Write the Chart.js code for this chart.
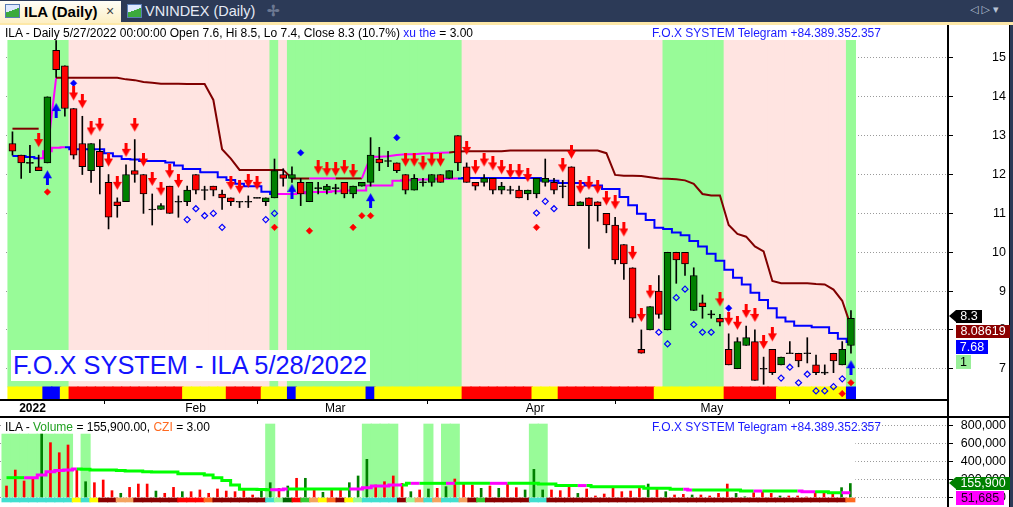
<!DOCTYPE html>
<html><head><meta charset="utf-8"><title>ILA Daily</title>
<script src="https://cdn.jsdelivr.net/npm/chart.js@4.4.1/dist/chart.umd.min.js"></script>
<style>
html,body{margin:0;padding:0}
body{width:1013px;height:507px;overflow:hidden;position:relative;background:#fff;font-family:"Liberation Sans",Arial,sans-serif;}
.a{position:absolute;white-space:nowrap}
#tabbar{left:0;top:0;width:1013px;height:22px;background:#2c3a57}
#tabline{left:0;top:22px;width:1013px;height:3px;background:#fde8a8}
#tab1{left:0;top:1px;width:121px;height:22px;background:linear-gradient(#fffef8,#fdefc4)}
.icon{width:13px;height:12px;border:1px solid #5a7db5;background:linear-gradient(160deg,#dfe9ff 0,#dfe9ff 45%,#3caa3c 46%,#3caa3c 100%)}
#t1txt{left:24px;top:3px;font-size:15px;font-weight:bold;color:#000}
#t1x{left:106px;top:3px;font-size:14px;color:#444}
#t2txt{left:145px;top:3px;font-size:14.5px;color:#e6ebf5}
#plus{left:267px;top:2px;font-size:15px;color:#6c7892;font-weight:bold}
#nav{left:970px;top:3px;font-size:11px;color:#b9c3d6;font-family:"DejaVu Sans",sans-serif;letter-spacing:3px}
#rborder{left:1009px;top:25px;width:4px;height:482px;background:#2c3a57;border-left:1px solid #000}
#vline{left:947px;top:25px;width:2px;height:482px;background:#000}
#hline1{left:0;top:399px;width:948px;height:2px;background:#000}
#hline2{left:0;top:416px;width:1010px;height:2px;background:#000}
.ttl{font-size:12px;line-height:13px;background:#fff;padding:0 1px}
#band{left:5px;top:27px;width:943px;height:13px;background:#fff}
#big{left:11px;top:350px;height:31px;line-height:31px;background:#fff;color:#1414ff;font-size:25.4px;padding:0 3px 0 2px}
.lbl{font-size:12.5px;line-height:13px;text-align:center;height:13px}
.tipL{width:0;height:0;border-top:6.5px solid transparent;border-bottom:6.5px solid transparent}
</style></head>
<body>
<div id="tabbar" class="a"></div>
<div id="tabline" class="a"></div>
<div id="tab1" class="a"></div>
<div class="a icon" style="left:5px;top:4px"></div>
<div id="t1txt" class="a">ILA (Daily)</div>
<div id="t1x" class="a">×</div>
<div class="a icon" style="left:127px;top:4px"></div>
<div id="t2txt" class="a">VNINDEX (Daily)</div>
<div id="plus" class="a">✢</div>
<div id="nav" class="a">◁▷▾</div>

<canvas id="pc" width="1013" height="393" style="position:absolute;left:0;top:25px"></canvas>
<canvas id="vc" width="1013" height="89" style="position:absolute;left:0;top:418px"></canvas>

<div id="band" class="a"></div>
<div class="a ttl" style="left:4px;top:27px">ILA - Daily 5/27/2022 00:00:00 Open 7.6, Hi 8.5, Lo 7.4, Close 8.3 (10.7%) <span style="color:#1a1aff">xu the</span> = 3.00</div>
<div class="a ttl" style="left:651px;top:27px;color:#1a1aff">F.O.X SYSTEM Telegram +84.389.352.357</div>
<div id="big" class="a">F.O.X SYSTEM - ILA 5/28/2022</div>

<div class="a ttl" style="left:4px;top:421px;background:transparent">ILA - <span style="color:#20a020">Volume</span> = 155,900.00, <span style="color:#ff6a20">CZI</span> = 3.00</div>
<div class="a ttl" style="left:651px;top:421px;color:#1a1aff;background:transparent">F.O.X SYSTEM Telegram +84.389.352.357</div>

<div id="vline" class="a"></div>
<div id="hline1" class="a"></div>
<div id="hline2" class="a"></div>
<div id="rborder" class="a"></div>

<div class="a tipL" style="left:949px;top:310px;border-right:7px solid #000"></div>
<div class="a lbl" style="left:956px;top:310px;width:26px;background:#000;color:#fff">8.3</div>
<div class="a lbl" style="left:956px;top:325px;width:54px;background:#8b0000;color:#fff">8.08619</div>
<div class="a lbl" style="left:956px;top:340px;width:32px;height:14px;line-height:14px;background:#0000ff;color:#fff">7.68</div>
<div class="a lbl" style="left:956px;top:355px;width:15px;height:14px;line-height:14px;background:#99ee99;color:#000">1</div>
<div class="a tipL" style="left:949px;top:477px;border-right:7px solid #008000"></div>
<div class="a lbl" style="left:956px;top:477px;width:54px;background:#008000;color:#fff">155,900</div>
<div class="a lbl" style="left:956px;top:491px;width:48px;height:14px;line-height:14px;background:#ff00ff;color:#200020">51,685</div>

<script>
// ---------------- DATA ----------------
const dates = ['12/31',
 '1/4','1/5','1/6','1/7','1/10','1/11','1/12','1/13','1/14','1/17','1/18','1/19','1/20','1/21','1/24','1/25','1/26','1/27','1/28',
 '2/7','2/8','2/9','2/10','2/11','2/14','2/15','2/16','2/17','2/18','2/21','2/22','2/23','2/24','2/25','2/28',
 '3/1','3/2','3/3','3/4','3/7','3/8','3/9','3/10','3/11','3/14','3/15','3/16','3/17','3/18','3/21','3/22','3/23','3/24','3/25','3/28','3/29','3/30','3/31',
 '4/1','4/4','4/5','4/6','4/7','4/8','4/12','4/13','4/14','4/15','4/18','4/19','4/20','4/21','4/22','4/25','4/26','4/27','4/28','4/29',
 '5/4','5/5','5/6','5/9','5/10','5/11','5/12','5/13','5/16','5/17','5/18','5/19','5/20','5/23','5/24','5/25','5/26','5/27'];

const monthLabels = ['2022','Feb','Mar','Apr','May'];
const monthStarts = ['1/4','2/7','3/1','4/1','5/4'];
const priceTicks = [7,8,9,10,11,12,13,14,15];
const volumeTicks = [0,200000,400000,600000,800000];

const open = [12.8,12.5,12.3,12.2,12.3,15.2,14.8,13.7,12.8,12.1, 12.6,11.8,11.3,11.3,12.1,12.0,11.1,11.1,11.7,11.3,
 11.3,12.0,11.6,11.7,11.5,11.4,11.3,11.3,11.4,11.3, 11.4,12.0,11.9,11.8,11.3,11.65,11.6,11.65,11.8,11.5,
 11.7,11.8,12.4,12.35,12.3,12.0,11.6,11.8,11.8,12.0, 11.9,13.0,12.2,11.8,11.8,11.9,11.6,11.6,11.6,11.5,
 11.5,11.8,11.8,11.7,12.2,11.2,11.4,11.3,11.0,10.7, 10.2,9.6,7.5,8.0,9.0,8.0,10.0,10.0,8.5,8.7,
 8.4,8.3,7.5,7.0,7.6,7.7,7.0,7.5,7.1,7.4, 7.4,7.4,7.1,6.9,7.4,7.1,7.6];
const high = [13.1,12.5,12.75,12.5,14.0,15.45,14.8,13.7,13.5,12.8, 12.9,12.0,11.4,12.25,12.9,12.0,11.5,11.25,11.7,11.45,
 11.7,12.0,11.7,11.7,11.6,11.4,11.3,11.45,11.4,11.4, 12.4,12.15,12.2,11.9,11.8,11.8,11.75,11.75,11.8,11.7,
 11.8,12.95,12.7,12.6,12.3,12.0,12.0,11.9,12.0,12.0, 12.1,13.0,12.3,11.8,12.0,11.9,11.8,11.7,11.7,11.6,
 11.9,12.4,11.9,11.85,12.2,11.3,11.4,11.3,11.0,10.9, 10.2,9.6,8.0,8.6,9.4,10.0,10.0,10.0,9.6,8.9,
 8.5,8.4,7.9,7.8,8.1,8.0,7.3,7.5,7.3,7.7, 7.4,7.8,7.35,7.1,7.4,7.7,8.5];
const low = [12.5,11.9,12.05,12.1,12.3,14.5,13.5,12.4,12.0,11.8, 11.5,10.6,10.9,11.3,11.8,11.0,10.7,11.1,11.0,10.9,
 11.2,11.5,11.35,11.45,11.1,11.2,11.15,11.15,11.4,11.2, 11.4,11.7,11.8,11.2,11.3,11.5,11.5,11.5,11.4,11.4,
 11.7,11.7,12.1,12.2,12.05,11.5,11.6,11.7,11.7,11.8, 11.9,12.1,11.8,11.6,11.7,11.5,11.5,11.5,11.4,11.35,
 11.4,11.7,11.5,11.4,11.2,11.2,10.1,10.8,10.5,9.7, 9.3,8.2,7.4,8.0,8.3,8.0,9.2,9.4,8.5,8.3,
 8.3,8.1,7.1,7.0,7.6,6.7,6.6,6.85,7.1,7.4, 7.05,7.15,6.85,6.85,6.9,7.1,7.4];
const close = [12.6,12.3,12.3,12.1,14.0,14.7,13.7,12.5,12.2,12.8, 12.2,10.9,11.2,12.0,12.0,11.5,11.1,11.2,11.0,11.3,
 11.6,11.6,11.6,11.6,11.4,11.3,11.3,11.3,11.4,11.4, 12.1,11.9,12.0,11.5,11.8,11.65,11.7,11.65,11.5,11.7,
 11.8,12.5,12.3,12.35,12.1,11.6,11.9,11.8,12.0,11.8, 12.1,12.3,11.8,11.7,11.9,11.6,11.7,11.6,11.4,11.6,
 11.9,11.9,11.6,11.7,11.2,11.3,11.2,11.2,10.7,9.8, 9.7,8.3,7.4,8.6,8.4,10.0,9.8,9.7,9.4,8.6,
 8.4,8.2,7.1,7.7,7.8,6.7,7.0,6.9,7.3,7.4, 7.2,7.4,6.9,6.9,7.2,7.5,8.3];

// trend average (blue / magenta staircase)
const trendLine = [12.48,12.48,12.45,12.42,12.6,12.69,12.7,12.65,12.65,12.65, 12.65,12.55,12.47,12.4,12.39,12.35,12.35,12.35,12.31,12.23,
 12.14,12.14,12.06,12.06,11.93,11.86,11.76,11.7,11.7,11.56, 11.5,11.5,11.5,11.52,11.55,11.55,11.55,11.57,11.59,11.59,
 11.59,11.72,11.72,11.72,11.84,11.85,11.86,11.87,11.88,11.89, 11.89,11.9,11.91,11.91,11.91,11.91,11.91,11.91,11.91,11.91,
 11.91,11.84,11.84,11.78,11.78,11.78,11.72,11.72,11.63,11.63, 11.42,11.21,10.99,10.83,10.63,10.6,10.51,10.44,10.29,10.15,
 9.96,9.78,9.55,9.34,9.17,8.96,8.77,8.56,8.32,8.22, 8.11,8.11,8.07,8.07,7.92,7.77,7.69];
const trendColorRuns = [['B',4],['M',3],['B',24],['M',21],['B',45]];

// stop line (dark red / magenta)
const stopLine = [13.18,13.18,13.18,13.18,12.6,14.49,14.49,14.49,14.49,14.49, 14.49,14.49,14.49,14.45,14.43,14.38,14.36,14.34,14.34,14.34,
 14.33,14.33,14.33,13.92,12.65,12.41,12.12,12.12,12.12,12.12, 12.12,12.12,11.9,11.9,11.9,11.9,11.9,11.9,11.9,11.9,
 11.9,12.46,12.46,12.47,12.5,12.52,12.52,12.54,12.55,12.56, 12.57,12.59,12.6,12.6,12.6,12.6,12.6,12.62,12.62,12.62,
 12.62,12.62,12.62,12.62,12.62,12.62,12.62,12.62,12.55,11.99, 11.97,11.97,11.96,11.93,11.9,11.89,11.88,11.85,11.76,11.5,
 11.46,11.46,10.7,10.47,10.4,10.15,10.02,9.26,9.2,9.2, 9.2,9.2,9.18,9.17,9.04,8.75,8.09];
const stopColorRuns = [['R',4],['N',1],['M',1],['R',29],['M',3],['R',3],['M',10],['R',46]];

// zone shading and status strip
const zoneRuns = [['G',7],['P',23],['G',1],['P',1],['G',20],['P',23],['G',7],['P',14],['G',1]];
const stripRuns = [['Y',4],['B',2],['Y',1],['R',13],['Y',5],['R',4],['Y',3],['B',1],['Y',8],['B',1],['Y',10],['R',8],['Y',3],['R',11],['Y',8],['R',6],['Y',8],['B',1]];

// signals
const sellArrowBars = [3,7,8,9,10,11,12,13,14,15,16,17,18,19,25,26,27,28,35,36,37,38,39,45,46,47,48,49,52,53,54,55,56,57,58,59,63,64,65,66,67,68,69,70,71,72,73,81,82,83,84,85,86,87];
const buyArrowBars = [4,5,32,41,96];
const buyArrowTip = [12.11,13.84,11.76,11.52,7.22];
const hollowDiamondBars = [20,21,22,23,24,29,30,60,61,62,74,75,76,77,78,79,80,88,89,90,91,92,93,94,95];
const hollowDiamondY = [10.84,11.12,10.94,11.0,10.64,10.84,11.0,11.01,11.31,11.12,7.94,7.64,8.83,9.05,8.14,7.94,7.94,6.76,7.04,6.64,6.86,6.43,6.43,6.54,6.74];
const blueDiamondBars = [7,33,44,82];
const blueDiamondY = [14.35,12.56,12.95,8.56];
const redDiamondBars = [4,30,34,39,40,41,60,95,96];
const redDiamondY = [11.55,10.64,10.55,10.64,10.94,10.94,10.64,6.36,6.64];

// volume pane
const volume = [128000,306000,184000,214000,707000,611000,499000,585000,306000,176000,
 165000,195000,76000,47000,113000,150000,150000,72000,47000,113000,
 65000,65000,84000,47000,95000,72000,65000,102000,28000,84000,
 165000,102000,128000,214000,214000,95000,58000,95000,102000,165000,
 240000,425000,139000,176000,240000,158000,65000,84000,95000,102000,
 121000,206000,165000,139000,102000,128000,102000,150000,110000,84000,
 314000,84000,84000,76000,113000,46000,95000,17000,39000,102000,
 65000,72000,102000,150000,113000,65000,28000,35000,28000,28000,
 17000,46000,150000,46000,8000,54000,65000,46000,17000,17000,
 17000,5000,65000,54000,46000,110000,155900];
const volumeAvg = [221000,221000,221000,221000,250000,288000,300000,306000,317000,314000,
 306000,306000,306000,300000,294000,294000,286000,283000,283000,283000,
 266000,266000,266000,250000,220000,190000,139000,91000,91000,88000,
 86000,86000,95000,95000,95000,95000,95000,95000,95000,95000,
 95000,110000,128000,128000,139000,139000,158000,158000,158000,158000,
 158000,158000,158000,158000,158000,158000,158000,158000,158000,158000,
 158000,150000,150000,133000,133000,133000,133000,121000,121000,121000,
 121000,121000,121000,102000,102000,102000,91000,91000,84000,84000,
 84000,84000,84000,84000,72000,72000,72000,72000,72000,72000,
 72000,65000,65000,65000,54000,54000,51685];
const volumeAvgColorRuns = [['G',3],['M',6],['G',22],['M',2],['G',7],['M',6],['G',1],['M',1],['G',3],['M',1],['G',4],['M',2],['G',8],['M',1],['G',11],['M',1],['G',7],['M',1],['G',4],['M',2],['G',3],['M',1]];
const volumeShadeBars = [0,1,2,3,4,5,6,7,9,30,41,42,43,44,48,50,51,60,61];
const volumeShadeTop = [707000,707000,707000,707000,707000,707000,707000,707000,707000,819000,819000,819000,819000,819000,819000,819000,819000,819000,819000];
const volumeStripRuns = [['T',8],['Y',1],['T',1],['Y',1],['D',2],['S',2],['D',5],['R',3],['O',1],['D',6],['T',1],['L',1],['K',1],['R',1],['M',1],['S',1],['Y',1],['O',1],['D',1],['Y',1],['L',1],['T',4],['D',1],['L',1],['S',1],['T',1],['S',1],['T',2],['S',1],['D',1],['M',1],['D',5],['T',2],['D',34],['O',1]];

// ---------------- STYLE / LAYOUT ----------------
const FF = '"Liberation Sans", Arial, sans-serif';
const X_MIN = -0.74, X_MAX = 107.11;
const Y_MIN = 6.196, Y_MAX = 15.695;
const ZONE_BOTTOM = 6.535, STRIP_BOTTOM = 6.229;
const V_MIN = -105850, V_MAX = 885800, V_STRIP = -50000;
const zoneColors = {G:'#98fb98', P:'#ffe4e1'};
const stripColors = {Y:'#ffff00', B:'#0000ff', R:'#ff0000'};
const lineColors = {B:'#0000ff', M:'#ff00ff', R:'#800000', N:'rgba(0,0,0,0)', G:'#00ff00'};
const vStripColors = {T:'#40e0d0', Y:'#ffff00', D:'#8b0000', S:'#f4a460', R:'#ff0000', O:'#ff6a20', L:'#98fb98', K:'#006400', M:'#32cd32'};

function expand(runs){const o=[];runs.forEach(([c,n])=>{for(let k=0;k<n;k++)o.push(c);});return o;}
const idx = dates.map((d,i)=>i);
const monthIdx = monthStarts.map(d=>dates.indexOf(d));
const zone = expand(zoneRuns), strip = expand(stripRuns);
const trendCol = expand(trendColorRuns), stopCol = expand(stopColorRuns);
const vAvgCol = expand(volumeAvgColorRuns), vStrip = expand(volumeStripRuns);

const isDoji = i => Math.abs(open[i]-close[i]) < 0.02;

function downArrow(color, gap){
  const w=9, ah=14, h=2*(gap+ah);
  const c=document.createElement('canvas'); c.width=w; c.height=h;
  const g=c.getContext('2d'); g.fillStyle=color;
  const tip=h/2-gap, top=tip-ah;
  g.fillRect(3,top,3,8);
  g.beginPath(); g.moveTo(0,top+6); g.lineTo(w,top+6); g.lineTo(w/2,tip); g.closePath(); g.fill();
  return c;
}
function upArrow(color){
  const w=9, ah=15, h=2*ah;
  const c=document.createElement('canvas'); c.width=w; c.height=h;
  const g=c.getContext('2d'); g.fillStyle=color;
  const tip=h/2;
  g.beginPath(); g.moveTo(0,tip+8); g.lineTo(w,tip+8); g.lineTo(w/2,tip); g.closePath(); g.fill();
  g.fillRect(3,tip+7,3,ah-7);
  return c;
}
function measure(txt){const c=document.createElement('canvas').getContext('2d');c.font='12.5px '+FF;return c.measureText(txt).width;}
const AXIS_W = 58, TICK_L = 5;
const padP = AXIS_W - TICK_L - measure('15');
const padV = AXIS_W - TICK_L - measure('800,000');
const noPad = s => { s.paddingTop = 0; s.paddingBottom = 0; s.paddingLeft = 0; s.paddingRight = 0; };

const noLegend = {legend:{display:false}, tooltip:{enabled:false}};

// ---------------- PRICE CHART ----------------
new Chart(document.getElementById('pc'), {
  type:'bar',
  data:{datasets:[
    {type:'scatter', order:1, data:sellArrowBars.map(i=>({x:i,y:high[i]})), pointStyle:downArrow('#ff0000',8), pointRadius:5},
    {type:'scatter', order:1, data:buyArrowBars.map((i,k)=>({x:i,y:buyArrowTip[k]})), pointStyle:upArrow('#0000ff'), pointRadius:5},
    {type:'scatter', order:2, data:hollowDiamondBars.map((i,k)=>({x:i,y:hollowDiamondY[k]})), pointStyle:'rectRot', pointRadius:3, borderColor:'#0000ff', borderWidth:1.2, backgroundColor:'rgba(0,0,0,0)'},
    {type:'scatter', order:2, data:blueDiamondBars.map((i,k)=>({x:i,y:blueDiamondY[k]})), pointStyle:'rectRot', pointRadius:3.3, borderColor:'#0000ff', borderWidth:0.5, backgroundColor:'#0000ff'},
    {type:'scatter', order:2, data:redDiamondBars.map((i,k)=>({x:i,y:redDiamondY[k]})), pointStyle:'rectRot', pointRadius:3.3, borderColor:'#ff0000', borderWidth:0.5, backgroundColor:'#ff0000'},
    {order:10, grouped:false, barThickness:7, borderWidth:1, borderColor:'#000', borderSkipped:false,
     data:idx.map(i=>({x:i, y: isDoji(i)?[close[i]-0.012, close[i]+0.012]:[Math.min(open[i],close[i]),Math.max(open[i],close[i])]})),
     backgroundColor:idx.map(i=> isDoji(i)?'#000':(close[i]>open[i]?'#008000':'#ff0000'))},
    {order:11, grouped:false, barThickness:1, borderWidth:0, data:idx.map(i=>({x:i,y:[low[i],high[i]]})), backgroundColor:'#000'},
    {type:'line', order:20, data:idx.map(i=>({x:i,y:stopLine[i]})), borderWidth:2, pointRadius:0, borderColor:'#800000',
     segment:{borderColor:ctx=>lineColors[stopCol[ctx.p1DataIndex]]}},
    {type:'line', order:21, stepped:'middle', data:idx.map(i=>({x:i,y:trendLine[i]})), borderWidth:2, pointRadius:0, borderColor:'#0000ff',
     segment:{borderColor:ctx=>lineColors[trendCol[ctx.p1DataIndex]]}},
    {order:40, grouped:false, barThickness:9.4, borderWidth:0, data:idx.map(i=>({x:i,y:[STRIP_BOTTOM,ZONE_BOTTOM]})), backgroundColor:strip.map(c=>stripColors[c])},
    {order:50, grouped:false, barThickness:9.4, borderWidth:0, data:idx.map(i=>({x:i,y:[ZONE_BOTTOM,Y_MAX]})), backgroundColor:zone.map(c=>zoneColors[c])}
  ]},
  options:{
    responsive:false, maintainAspectRatio:false, animation:false, devicePixelRatio:1,
    layout:{padding:{left:0,right:7,top:2,bottom:0}},
    plugins:noLegend,
    scales:{
      x:{type:'linear', min:X_MIN, max:X_MAX, offset:false,
        afterBuildTicks:s=>{s.ticks=monthIdx.map(v=>({value:v}));},
        afterFit:s=>{s.height=18; noPad(s);},
        grid:{drawOnChartArea:false, drawTicks:true, tickLength:4, color:'#000', lineWidth:1},
        border:{display:false},
        ticks:{autoSkip:false, maxRotation:0, minRotation:0, align:'start', labelOffset:-2, padding:-2.5, color:'#000',
          font:ctx=>({family:FF, size:12, weight:(ctx.tick && ctx.tick.value===monthIdx[0])?'bold':'normal'}),
          callback:v=>{const k=monthIdx.indexOf(v);return k>=0?monthLabels[k]:'';}}
      },
      y:{position:'right', min:Y_MIN, max:Y_MAX,
        afterBuildTicks:s=>{s.ticks=priceTicks.map(v=>({value:v}));},
        afterFit:s=>{s.width=AXIS_W; noPad(s);},
        grid:{color:'#9a9a9a', lineWidth:1, drawTicks:true, tickLength:TICK_L, tickColor:'#000', tickWidth:1},
        border:{display:false, dash:[1,2]},
        ticks:{autoSkip:false, crossAlign:'far', padding:padP, color:'#000', font:{family:FF,size:12.5}, callback:v=>String(v)}
      }
    }
  }
});

// ---------------- VOLUME CHART ----------------
new Chart(document.getElementById('vc'), {
  type:'bar',
  data:{datasets:[
    {type:'line', order:1, stepped:'middle', data:idx.map(i=>({x:i,y:volumeAvg[i]})), borderWidth:3, pointRadius:0, borderColor:'#00ff00',
     segment:{borderColor:ctx=>lineColors[vAvgCol[ctx.p1DataIndex]]}},
    {order:2, grouped:false, barThickness:2, borderWidth:0, data:idx.map(i=>({x:i,y:volume[i]})),
     backgroundColor:idx.map(i=>close[i]>open[i]?'#008000':'#ff0000')},
    {order:3, grouped:false, barThickness:9.4, borderWidth:0, data:idx.map(i=>({x:i,y:[V_STRIP,0]})), backgroundColor:vStrip.map(c=>vStripColors[c])},
    {order:4, grouped:false, barThickness:9.4, borderWidth:0, data:volumeShadeBars.map((i,k)=>({x:i,y:[0,volumeShadeTop[k]]})), backgroundColor:'#98fb98'},
    {order:5, grouped:false, barThickness:9.4, borderWidth:0, data:idx.map(i=>({x:i,y:[0,V_MAX]})), backgroundColor:'#ffffff'}
  ]},
  options:{
    responsive:false, maintainAspectRatio:false, animation:false, devicePixelRatio:1,
    layout:{padding:{left:0,right:7,top:0,bottom:0}},
    plugins:noLegend,
    scales:{
      x:{type:'linear', min:X_MIN, max:X_MAX, offset:false, display:false},
      y:{position:'right', min:V_MIN, max:V_MAX,
        afterBuildTicks:s=>{s.ticks=volumeTicks.map(v=>({value:v}));},
        afterFit:s=>{s.width=AXIS_W; noPad(s);},
        grid:{color:'#9a9a9a', lineWidth:1, drawTicks:true, tickLength:TICK_L, tickColor:'#000', tickWidth:1},
        border:{display:false, dash:[1,2]},
        ticks:{autoSkip:false, crossAlign:'far', padding:padV, color:'#000', font:{family:FF,size:12.5},
          callback:v=>Number(v).toLocaleString('en-US')}
      }
    }
  }
});
</script>
</body></html>
